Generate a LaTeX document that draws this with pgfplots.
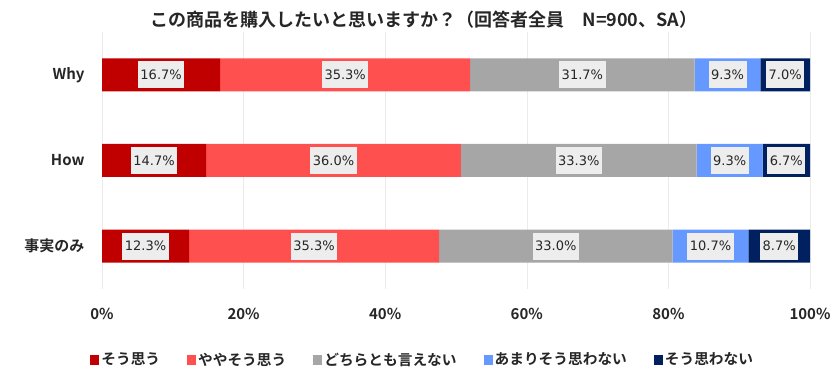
\documentclass[border=0pt]{standalone}
\usepackage{fontspec}
\setmainfont{Noto Sans CJK JP}[BoldFont={Noto Sans CJK JP Bold}]
\newfontfamily\labfont{DejaVu Sans}
\usepackage{pgfplots}
\pgfplotsset{compat=1.18}
\definecolor{c1}{HTML}{C00000}
\definecolor{c2}{HTML}{FF5050}
\definecolor{c3}{HTML}{A6A6A6}
\definecolor{c4}{HTML}{6699FF}
\definecolor{c5}{HTML}{002060}
\definecolor{boxbg}{HTML}{EDEDED}
\definecolor{txt}{HTML}{262626}
\begin{document}
\begin{tikzpicture}
\useasboundingbox (0,0) rectangle (840bp,388bp);
\node[font=\bfseries\fontsize{18bp}{21bp}\selectfont, text=txt] at (424bp,368bp) {この商品を購入したいと思いますか？（回答者全員　N=900、SA）};
\begin{axis}[
  at={(102bp,99bp)}, anchor=south west,
  scale only axis, width=708bp, height=257bp,
  xbar stacked, bar width=33bp,
  xmin=0, xmax=100, ymin=-0.5, ymax=2.5,
  ytick={0,1,2}, yticklabels={事実のみ,How,Why},
  xtick={0,20,40,60,80,100},
  xticklabel={\pgfmathprintnumber{\tick}\%},
  /pgf/number format/assume math mode=true,
  major tick length=0pt,
  axis line style={draw=none},
  xmajorgrids, grid style={draw=black!8, line width=0.6pt},
  tick label style={font=\bfseries\fontsize{15bp}{18bp}\selectfont, text=txt},
  xticklabel shift=16bp,
  yticklabel shift=14bp,
  visualization depends on={rawx \as \rawx},
  nodes near coords={\pgfmathprintnumber[fixed,fixed zerofill,precision=1]{\rawx}\%},
  every node near coord/.append style={anchor=center, fill=boxbg, text=txt, font=\labfont\fontsize{13bp}{15bp}\selectfont, inner xsep=2.5bp, inner ysep=0bp, minimum height=27bp},
  every axis plot post/.append style={draw=none, legend image code/.code={\fill[##1] (0bp,-5bp) rectangle (9bp,5bp);}},
  legend columns=5,
  legend style={at={(0.453,-0.275)}, anchor=center, draw=none, fill=none,
    font=\bfseries\fontsize{14.7bp}{17bp}\selectfont, text=txt,
    /tikz/every even column/.append style={column sep=25bp}},
]
\addplot[fill=c1] coordinates {(12.3,0) (14.7,1) (16.7,2)};
\addplot[fill=c2] coordinates {(35.3,0) (36.0,1) (35.3,2)};
\addplot[fill=c3] coordinates {(33.0,0) (33.3,1) (31.7,2)};
\addplot[fill=c4] coordinates {(10.7,0) (9.3,1) (9.3,2)};
\addplot[fill=c5] coordinates {(8.7,0) (6.7,1) (7.0,2)};
\legend{そう思う,ややそう思う,どちらとも言えない,あまりそう思わない,そう思わない}
\end{axis}
\end{tikzpicture}
\end{document}
